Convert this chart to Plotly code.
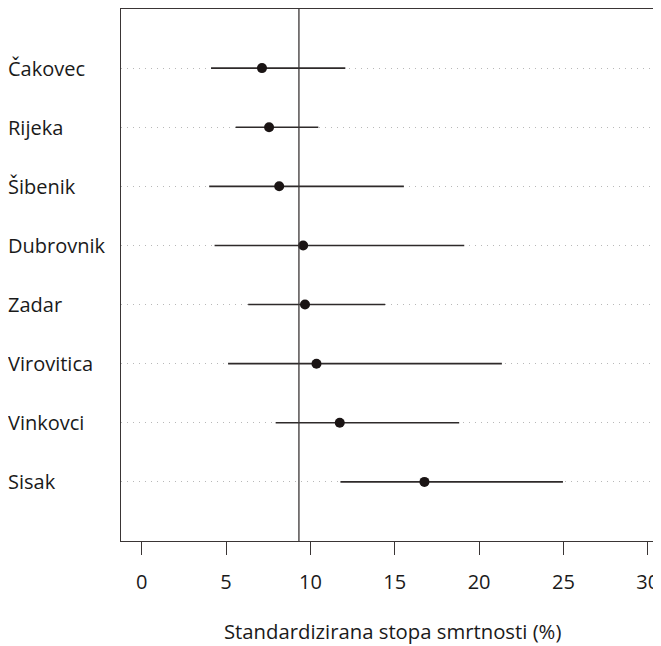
import plotly.graph_objects as go

cities = ["Čakovec", "Rijeka", "Šibenik", "Dubrovnik", "Zadar", "Virovitica", "Vinkovci", "Sisak"]
smr = [7.13, 7.55, 8.15, 9.57, 9.68, 10.36, 11.74, 16.76]
ci_low = [4.11, 5.57, 4.0, 4.32, 6.31, 5.12, 7.94, 11.78]
ci_high = [12.07, 10.47, 15.54, 19.12, 14.43, 21.35, 18.82, 24.97]
reference = 9.32
x_ticks = [0, 5, 10, 15, 20, 25, 30]
x_title = "Standardizirana stopa smrtnosti (%)"

# the page body has an 8px margin, so the figure is sized to fill the rest of the window
W, H = 653, 638
ml, mr, mt, mb = 113, 0, 1, 105
pw = W - ml - mr
ph = H - mt - mb

FONT = "Open Sans"
FS = 20
INK = "#1a1a1a"
LINE = "#3a3535"

fig = go.Figure()
fig.add_trace(go.Scatter(
    x=smr, y=cities, mode="markers",
    marker=dict(size=10, color="#1a1414"),
    error_x=dict(type="data", symmetric=False,
                 array=[h - p for h, p in zip(ci_high, smr)],
                 arrayminus=[p - l for p, l in zip(smr, ci_low)],
                 width=0, thickness=1.6, color="#2e2a2a"),
    showlegend=False, hoverinfo="skip",
))

fig.add_shape(type="line", x0=reference, x1=reference, xref="x", y0=0, y1=1, yref="paper",
              line=dict(color=LINE, width=1.3))

for c in cities:
    fig.add_annotation(x=-(ml + 2) / pw, xref="paper", xanchor="left",
                       y=c, yref="y", text=c, showarrow=False,
                       font=dict(family=FONT, size=FS, color=INK))

fig.add_annotation(x=(384.5 - ml) / pw, xref="paper", xanchor="center",
                   y=-(623 - (H - mb)) / ph, yref="paper", yanchor="middle",
                   text=x_title, showarrow=False,
                   font=dict(family=FONT, size=20.3, color=INK))

fig.update_layout(
    width=W, height=H,
    margin=dict(l=ml, r=mr, t=mt, b=mb, pad=0),
    plot_bgcolor="white", paper_bgcolor="white",
    font=dict(family=FONT, size=FS, color=INK),
    xaxis=dict(range=[-1.227, -1.227 + pw / 16.87], tickvals=x_ticks,
               ticks="outside", ticklen=13, tickwidth=1.3, tickcolor=LINE,
               showline=True, linecolor=LINE, linewidth=1.3, mirror=True,
               showgrid=False, zeroline=False, ticklabelstandoff=10,
               tickfont=dict(family=FONT, size=FS, color=INK)),
    yaxis=dict(type="category", categoryarray=cities, range=[8, -1],
               showticklabels=False, ticks="",
               showline=True, linecolor=LINE, linewidth=1.3, mirror=False,
               showgrid=True, gridcolor="#b8b8b8", gridwidth=1, griddash="1px,5px",
               zeroline=False),
)

fig.write_html("out.html")
